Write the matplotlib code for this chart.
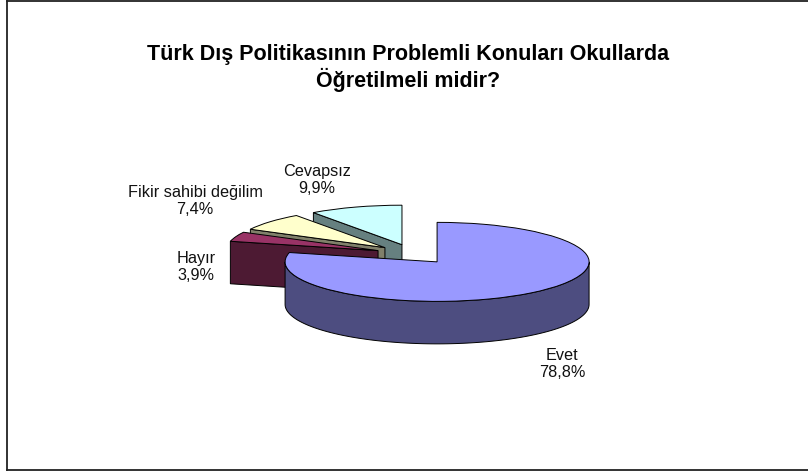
import numpy as np
import matplotlib
matplotlib.use('Agg')
import matplotlib.pyplot as plt
from matplotlib.lines import Line2D

plt.rcParams['font.family'] = ['Liberation Sans', 'DejaVu Sans']

labels = ['Evet', 'Hayır', 'Fikir sahibi değilim', 'Cevapsız']
shares = [78.8, 3.9, 7.4, 9.9]
top_colors = ['#9999FF', '#993366', '#FFFFCC', '#CCFFFF']
side_colors = ['#4D4D80', '#4D1A33', '#80806A', '#668080']
label_pos = [(562, 364), (196, 267), (195, 201), (317, 180)]

W, H = 808, 473
# pixel size of the pie ellipse
rx, ry = 152, 39.5
cx, cy = 413.6, 254.1
depth = 42.5 / ry


def pct(v):
    return f'{v:.1f}%'.replace('.', ',')


fig = plt.figure(figsize=(W / 100, H / 100), dpi=100)
ax = fig.add_axes([0, 0, 1, 1])

wedges, _ = ax.pie(shares, explode=[0.25] * 4, startangle=90, counterclock=False,
                   colors=top_colors,
                   wedgeprops={'edgecolor': 'black', 'linewidth': 0.7})
ax.set_aspect('auto')
ax.set_xlim(-cx / rx, (W - cx) / rx)
ax.set_ylim((cy - H) / ry, cy / ry)

# back slices are painted first
order = {3: 1, 2: 3, 1: 5, 0: 7}
for i, w in enumerate(wedges):
    w.set_zorder(order[i] + 1)
    x0, y0 = w.center
    if i == 0:
        # outer rim, front half only
        t = np.radians(np.linspace(-180, 0, 120))
        xs = x0 + np.cos(t)
        ys = y0 + np.sin(t)
        ax.fill(np.r_[xs, xs[::-1]], np.r_[ys, ys[::-1] - depth],
                fc=side_colors[i], ec='black', lw=0.7, zorder=order[i])
    else:
        # cut face where the slice starts (pie runs clockwise)
        a = np.radians(w.theta2)
        xe, ye = x0 + np.cos(a), y0 + np.sin(a)
        ax.fill([x0, xe, xe, x0], [y0, ye, ye - depth, y0 - depth],
                fc=side_colors[i], ec='black', lw=0.7, zorder=order[i])

fig.text(408 / W, 1 - 68 / H,
         'Türk Dış Politikasının Problemli Konuları Okullarda\nÖğretilmeli midir?',
         ha='center', va='center', fontsize=15.5, fontweight='bold', linespacing=1.17)

for name, v, (x, y) in zip(labels, shares, label_pos):
    fig.text(x / W, 1 - y / H, f'{name}\n{pct(v)}', ha='center', va='center',
             fontsize=11.7, linespacing=1.17, color='#111111')

# chart frame, right side runs off the picture
for xs, ys in [((7, 7), (1, 470)), ((7, W), (1, 1)), ((7, W), (470, 470))]:
    fig.add_artist(Line2D([x / W for x in xs], [1 - y / H for y in ys],
                          color='#222222', lw=1.3))

fig.savefig('out.png', dpi=100)
